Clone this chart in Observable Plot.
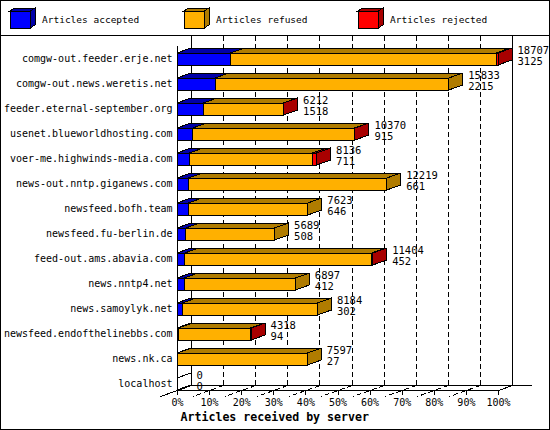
<!DOCTYPE html>
<html><head><meta charset="utf-8">
<script src="https://cdn.jsdelivr.net/npm/d3@7"></script>
<script src="https://cdn.jsdelivr.net/npm/@observablehq/plot@0.6"></script>
<style>
html,body{margin:0;padding:0;background:#fff;}
#page{position:relative;width:550px;height:430px;box-sizing:border-box;border:1px solid #000;background:#fff;overflow:hidden;font-family:"DejaVu Sans Mono",monospace;}
#legend{height:34px;border-bottom:1px solid #000;}
#legend svg,#chart svg{display:block;}
</style></head>
<body>
<div id="page"><div id="legend"></div><div id="chart"></div></div>
<script>
// ---- data ----
const servers = ["comgw-out.feeder.erje.net","comgw-out.news.weretis.net","feeder.eternal-september.org","usenet.blueworldhosting.com","voer-me.highwinds-media.com","news-out.nntp.giganews.com","newsfeed.bofh.team","newsfeed.fu-berlin.de","feed-out.ams.abavia.com","news.nntp4.net","news.samoylyk.net","newsfeed.endofthelinebbs.com","news.nk.ca","localhost"];
const received = [18707,15833,6212,10370,8136,12219,7623,5689,11404,6897,8184,4318,7597,0];
const accepted = [3125,2215,1518,915,711,661,646,508,452,412,302,94,27,0];
const refused  = [15472,13618,4664,9425,7175,11558,6977,5181,10902,6485,7882,4194,7570,0];
const rejected = [110,0,30,30,250,0,0,0,50,0,0,30,0,0];
const seriesNames = ["Articles accepted","Articles refused","Articles rejected"];
const frontColors = ["#0000ff","#ffb000","#ff0000"];
const shadeColors = ["#0000a8","#b07c00","#a80000"];
const tickPercents = [0,10,20,30,40,50,60,70,80,90,100];
const xTitle = "Articles received by server";

// ---- geometry (px) ----
const W = 548, H = 393;
const X0 = 176, X1 = 497;         // 0% .. 100% front axis
const Y0 = 23, ROW = 25;          // centre of first row, row pitch
const DEPTH_X = 14, DEPTH_Y = 5, BAR_H = 12;
const n = servers.length;
const pxX = 100 / (X1 - X0);
const dxU = DEPTH_X * pxX, dyU = DEPTH_Y / ROW, hU = BAR_H / 2 / ROW;
const topU = -Y0 / ROW;
const frontFloorU = (n - 1) + hU;
const backFloorU = frontFloorU - dyU;
const maxT = d3.max(received);

// ---- legend ----
const lg = d3.select("#legend").append("svg").attr("width", W).attr("height", 34);
const lx = [9, 183, 357];
seriesNames.forEach((name, j) => {
  const x = lx[j], y = 10, w = 20, h = 17, dx = 5, dy = 3;
  const g = lg.append("g").attr("shape-rendering", "crispEdges").attr("stroke", "#000");
  g.append("path").attr("d", `M${x+w},${y}L${x+w+dx},${y-dy}L${x+w+dx},${y+h-dy}L${x+w},${y+h}Z`).attr("fill", shadeColors[j]);
  g.append("path").attr("d", `M${x},${y}L${x+dx},${y-dy}L${x+w+dx},${y-dy}L${x+w},${y}Z`).attr("fill", shadeColors[j]);
  g.append("rect").attr("x", x).attr("y", y).attr("width", w).attr("height", h).attr("fill", frontColors[j]);
  lg.append("text").attr("x", x + 32).attr("y", 19).attr("dy", "0.35em")
    .attr("font-family", "DejaVu Sans Mono").attr("font-size", 9.5).text(name);
});

// ---- bar geometry from data ----
const segs = [], sides = [];
servers.forEach((s, i) => {
  const vals = [accepted[i], refused[i], rejected[i]];
  let c = 0, last = null;
  vals.forEach((v, j) => {
    if (v > 0) {
      const a = c / maxT * 100; c += v;
      last = {i, j, a, b: c / maxT * 100, id: `${i}-${j}`};
      segs.push(last);
    }
  });
  sides.push(last ? {i, b: last.b, fill: shadeColors[last.j], id: `s${i}`} : {i, b: 0, fill: "#ffffff", id: `s${i}`});
});
const topPts = segs.flatMap(d => [
  {id: d.id, fill: shadeColors[d.j], y: d.i - hU, x1: d.a, x2: d.b},
  {id: d.id, fill: shadeColors[d.j], y: d.i - hU - dyU, x1: d.a + dxU, x2: d.b + dxU}
]);
const sidePts = sides.flatMap(d => [
  {id: d.id, fill: d.fill, x: d.b, y1: d.i + hU, y2: d.i - hU},
  {id: d.id, fill: d.fill, x: d.b + dxU, y1: d.i + hU - dyU, y2: d.i - hU - dyU}
]);
const totalPct = received.map(v => v / maxT * 100);
const crisp = {shapeRendering: "crispEdges"};

const chart = Plot.plot({
  width: W, height: H,
  marginLeft: X0, marginRight: W - X1, marginTop: 0, marginBottom: 0,
  style: {fontFamily: "DejaVu Sans Mono", fontSize: "10px", background: "#fff", color: "#000", overflow: "visible"},
  x: {domain: [0, 100], range: [X0, X1], axis: null},
  y: {domain: [0, n - 1], range: [Y0, Y0 + (n - 1) * ROW], axis: null},
  color: {type: "identity"},
  marks: [
    // back grid
    Plot.ruleX(tickPercents.slice(1, -1), {x: d => d + dxU, y1: topU, y2: backFloorU, stroke: "#000", strokeDasharray: "5,3", ...crisp}),
    Plot.link(tickPercents.slice(1, -1), {x1: d => d + dxU, y1: backFloorU, x2: d => d - 17 * pxX, y2: frontFloorU + 6 / ROW, stroke: "#000", strokeDasharray: "5,3", ...crisp}),
    Plot.ruleX([0, 100], {x: d => d + dxU, y1: topU, y2: backFloorU, stroke: "#000", ...crisp}),
    Plot.ruleY([backFloorU], {x1: dxU, x2: 100 + dxU + 20 * pxX, stroke: "#000", ...crisp}),
    Plot.link([0], {x1: d => d + dxU, y1: backFloorU, x2: d => d - 17 * pxX, y2: frontFloorU + 6 / ROW, stroke: "#000", ...crisp}),
    Plot.link([100], {x1: d => d + dxU, y1: backFloorU, x2: d => d, y2: frontFloorU, stroke: "#000", ...crisp}),
    Plot.ruleX(tickPercents, {x: d => d, y1: frontFloorU, y2: frontFloorU + 5 / ROW, stroke: "#000", ...crisp}),
    // bars
    Plot.areaY(sidePts, {x: "x", y1: "y1", y2: "y2", z: "id", fill: "fill", stroke: "#000", ...crisp}),
    Plot.rect(segs, {x1: "a", x2: "b", y1: d => d.i - hU, y2: d => d.i + hU, fill: d => frontColors[d.j], stroke: "#000", ...crisp}),
    Plot.areaX(topPts, {y: "y", x1: "x1", x2: "x2", z: "id", fill: "fill", stroke: "#000", ...crisp}),
    // front frame
    Plot.ruleX([0], {y1: -hU - dyU - 2 / ROW, y2: frontFloorU, stroke: "#000", ...crisp}),
    Plot.ruleY([frontFloorU], {x1: 0, x2: 100, stroke: "#000", ...crisp}),
    // texts
    Plot.text(servers, {x: 0, y: (d, i) => i, text: d => d, textAnchor: "end", dx: -5, dy: -1, fontSize: 10}),
    Plot.text(servers, {x: (d, i) => totalPct[i] + dxU, y: (d, i) => i, text: (d, i) => String(received[i]), textAnchor: "start", dx: 5, dy: -9, fontSize: 10.5}),
    Plot.text(servers, {x: (d, i) => totalPct[i] + dxU, y: (d, i) => i, text: (d, i) => String(accepted[i]), textAnchor: "start", dx: 5, dy: 2.5, fontSize: 10.5}),
    Plot.text(tickPercents, {x: d => d, y: n - 1, dy: 18, text: d => d + "%", fontSize: 10}),
    Plot.text([xTitle], {x: 0, y: n - 1, dy: 33, dx: 3, text: d => d, textAnchor: "start", fontWeight: "bold", fontSize: 11.6})
  ]
});
document.getElementById("chart").appendChild(chart);
</script>
</body></html>
